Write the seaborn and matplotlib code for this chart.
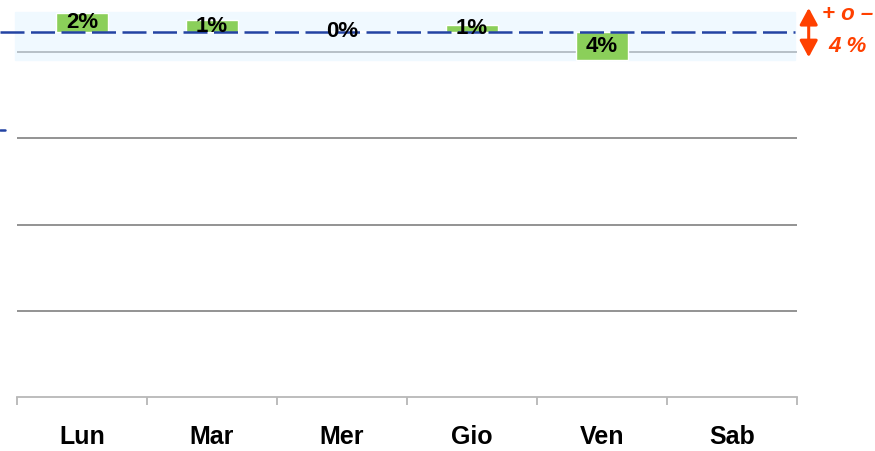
"""
Daily deviation from target: green bars around the dashed target line,
with the +/- 4 % tolerance band shown as a light blue strip.
"""
import matplotlib
matplotlib.use("Agg")
import matplotlib.pyplot as plt
from matplotlib.lines import Line2D
import numpy as np
import pandas as pd
import seaborn as sns

# ---- data ----
DAYS = ["Lun", "Mar", "Mer", "Gio", "Ven", "Sab"]
DEVIATION = [5.5, 3.5, 0.3, 2.0, -8.1, 0.0]      # bar height from the target line
PCT_LABELS = ["2%", "1%", "0%", "1%", "4%", ""]
TARGET = 105.8
BAND_LOW, BAND_HIGH = 97.7, 111.6
GRID_VALUES = [25, 50, 75, 100]
Y_MAX = 115.1

GREEN = "#8bcf5a"
NAVY = "#2343a3"
RED = "#ff4000"

sns.set_style("white")
plt.rcParams["font.family"] = ["Liberation Sans Narrow", "Liberation Sans", "DejaVu Sans"]

df = pd.DataFrame({"day": DAYS, "dev": DEVIATION})

fig = plt.figure(figsize=(8.75, 4.51), dpi=100)
ax = fig.add_axes([17 / 875, 1 - 397 / 451, 780 / 875, 397 / 451])

# tolerance band, slightly wider than the plot on the left
ax.axhspan(BAND_LOW, BAND_HIGH, xmin=-2 / 780, xmax=778 / 780,
           color="#f0f9ff", zorder=0.5, clip_on=False)

for g in GRID_VALUES:
    col = "#b3bcc3" if BAND_LOW < g < BAND_HIGH else "#8a8a8a"
    ax.axhline(g, color=col, lw=1.3, zorder=0.8)

sns.barplot(data=df, x="day", y="dev", bottom=TARGET, width=0.4,
            color=GREEN, saturation=1, errorbar=None, ax=ax, zorder=2)

ax.bar_label(ax.containers[0], labels=PCT_LABELS, label_type="center",
             fontsize=16, fontweight="bold", color="#000000", zorder=4)

# target line, running out to the left edge of the figure
ax.axhline(TARGET, xmin=-17 / 780, xmax=778 / 780, color=NAVY, lw=1.8,
           dashes=(9.6, 2.6), clip_on=False, zorder=3)

# small stray dash on the far left
fig.add_artist(Line2D([0, 5 / 875], [1 - 130 / 451] * 2, color=NAVY, lw=1.8))

ax.set_ylim(0, Y_MAX)
ax.set_xlim(-0.5, len(DAYS) - 0.5)
ax.set_xlabel("")
ax.set_ylabel("")
ax.set_yticks([])

ax.set_xticks(np.arange(-0.5, len(DAYS)), minor=True)
ax.tick_params(axis="x", which="minor", length=6, width=1.2, color="#b0b0b0",
               direction="out", bottom=True)
ax.tick_params(axis="x", which="major", length=0, pad=20, labelcolor="#000000")
for lbl in ax.get_xticklabels():
    lbl.set_fontsize(18)
    lbl.set_fontweight("bold")

for side in ["top", "right", "left"]:
    ax.spines[side].set_visible(False)
ax.spines["bottom"].set_color("#b8b8b8")
ax.spines["bottom"].set_linewidth(1.3)

# tolerance annotation on the right
ax.annotate("", xy=(1.015, 112.8), xytext=(1.015, 98.5),
            xycoords=ax.get_yaxis_transform(), textcoords=ax.get_yaxis_transform(),
            arrowprops=dict(arrowstyle="<|-|>,head_length=0.5,head_width=0.27",
                            mutation_scale=20, color=RED, lw=2.2,
                            shrinkA=0, shrinkB=0),
            annotation_clip=False)
fig.text(848 / 875, 1 - 15 / 451, "+ o –", ha="center", va="center",
         fontsize=16, fontweight="bold", fontstyle="italic", color=RED,
         family=["Liberation Sans", "DejaVu Sans"])
fig.text(848 / 875, 1 - 47 / 451, "4 %", ha="center", va="center",
         fontsize=16, fontweight="bold", fontstyle="italic", color=RED,
         family=["Liberation Sans", "DejaVu Sans"])

fig.savefig("out.png", dpi=100)
plt.close(fig)
